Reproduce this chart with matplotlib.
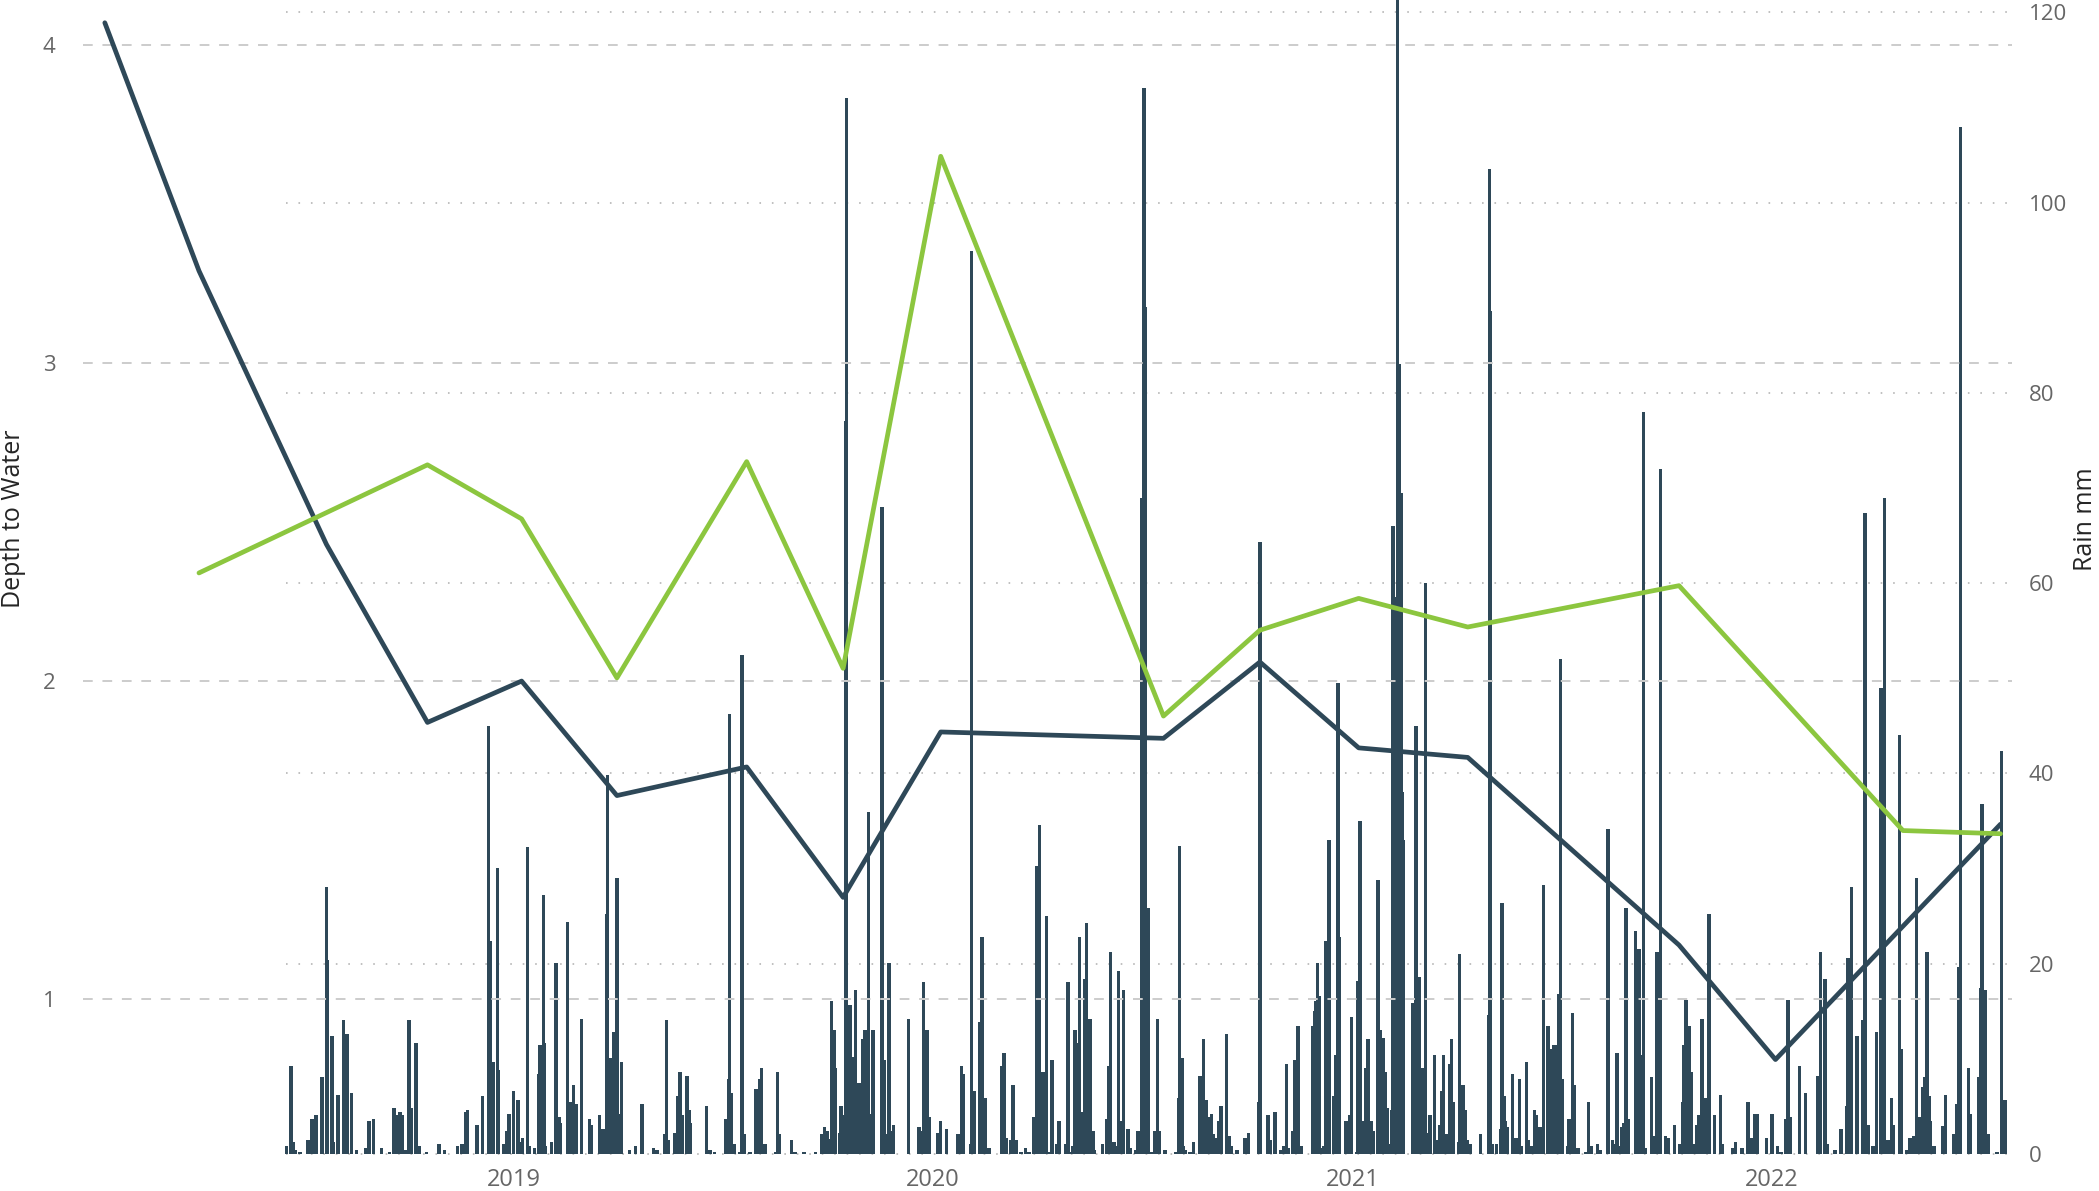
import matplotlib
matplotlib.use("Agg")
import matplotlib.pyplot as plt
import pandas as pd

plt.rcParams["font.family"] = ["Open Sans", "DejaVu Sans"]

SLATE = "#2E4858"
GREEN = "#8CC63F"
GRID = "#CCCCCC"
TICK = "#666666"

# quarterly depth readings (two bores)
dark_dates = ["2018-01-10", "2018-04-02", "2018-07-22", "2018-10-18", "2019-01-08",
              "2019-04-01", "2019-07-23", "2019-10-15", "2020-01-08", "2020-07-20",
              "2020-10-12", "2021-01-06", "2021-04-11", "2021-10-12", "2022-01-04",
              "2022-07-19"]
dark_depth = [4.07, 3.29, 2.43, 1.87, 2.00, 1.64, 1.73, 1.32, 1.84, 1.82,
              2.06, 1.79, 1.76, 1.17, 0.81, 1.55]

green_dates = ["2018-04-02", "2018-10-18", "2019-01-08", "2019-04-01", "2019-07-23",
               "2019-10-15", "2020-01-08", "2020-07-20", "2020-10-12", "2021-01-06",
               "2021-04-11", "2021-10-12", "2022-04-25", "2022-07-19"]
green_depth = [2.34, 2.68, 2.51, 2.01, 2.69, 2.04, 3.65, 1.89, 2.16, 2.26,
               2.17, 2.30, 1.53, 1.52]

# daily rain, days counted from rain_start
rain_start = "2018-06-16"
rain_day = [
    1, 5, 7, 9, 13, 20, 23, 24, 27, 32, 36, 37, 41, 42, 46, 51, 54, 58, 62, 70,
    73, 77, 84, 91, 95, 98, 100, 102, 105, 108, 110, 114, 117, 123, 134, 139, 150, 154, 157, 159,
    167, 172, 177, 179, 181, 185, 186, 190, 193, 195, 199, 203, 206, 207, 211, 213, 217, 221, 222, 225,
    226, 227, 232, 236, 239, 240, 246, 249, 251, 253,
    254, 258, 265, 267, 274, 277, 278, 280, 281, 283, 286, 289, 291, 293, 300, 305, 311, 321, 324, 331,
    332, 334, 339, 342, 344, 346, 350, 352, 353, 367, 370, 374, 384, 386, 387, 389, 391, 396, 398, 400,
    405, 410, 413, 415, 418, 427, 429, 430, 441, 444, 452, 462, 467, 470, 472, 474, 476, 478, 479, 483,
    484, 486, 487, 488, 489, 492, 495, 497, 500, 503, 505, 508,
    510, 512, 520, 522, 524, 526, 528, 530, 543, 552, 554, 556, 559, 561, 568, 571, 576, 586, 589, 591,
    597, 598, 600, 605, 607, 610, 613, 624, 626, 628, 632, 634, 637, 641, 645, 648, 652, 655, 657, 660,
    663, 666, 668, 672, 674, 680, 682, 685, 686, 688, 691, 692, 695, 696, 698, 701, 704, 705, 712, 716,
    717, 719, 722, 724, 726, 728, 730, 734, 736, 741, 743, 746, 748, 749, 752, 754, 757, 760, 761, 766,
    767, 776, 778, 779, 781, 782, 784, 788, 791, 797, 800, 802, 804, 805, 807, 808, 810, 813, 815, 820,
    822, 824, 829, 836, 839, 848, 849, 856, 858, 862, 867, 870, 872, 874, 878, 879, 882, 885, 895, 897,
    898, 899, 901, 903, 905, 906, 909, 913, 915, 917, 918, 924, 927, 929, 933, 934, 936, 939, 941, 943,
    946, 948, 952, 954, 956, 958, 960, 962, 964, 965, 966, 967, 968, 969, 970, 971, 972, 973, 974, 982,
    985, 988, 990, 993, 995, 997, 1001, 1003, 1006, 1007, 1009, 1011, 1013, 1014, 1016, 1017, 1022, 1023,
    1026, 1028, 1030, 1032, 1041, 1048, 1049, 1050, 1051, 1055, 1059, 1060, 1062, 1063, 1064, 1069, 1072, 1075,
    1077, 1081, 1083, 1085, 1088, 1090, 1092, 1094, 1096, 1100, 1102, 1105, 1108, 1109, 1111, 1112, 1117, 1118,
    1121, 1123, 1126, 1133, 1135, 1138, 1143, 1145, 1152, 1156, 1158, 1160, 1161, 1164, 1166, 1168, 1170, 1176,
    1179, 1181, 1183, 1185, 1190, 1193, 1195, 1198, 1202, 1205, 1210, 1215, 1217, 1218, 1220, 1223, 1225, 1226,
    1229, 1231, 1234, 1237, 1238, 1240, 1245, 1250, 1252, 1261, 1263, 1269, 1274, 1277, 1280,
    1282, 1290, 1295, 1300, 1303, 1307, 1309, 1311, 1319, 1324, 1335, 1337, 1341, 1343, 1350, 1355, 1360, 1361,
    1364, 1369, 1374, 1376, 1379, 1383, 1386, 1390, 1393, 1396, 1399, 1401, 1406, 1408, 1412, 1415, 1418, 1421,
    1424, 1426, 1428, 1430, 1432, 1433, 1436, 1444, 1446, 1453, 1456, 1458, 1459, 1466, 1468, 1475, 1477, 1478,
    1481, 1483, 1491, 1495, 1498,
]
rain_mm = [
    0.8, 9.3, 1.3, 0.4, 0.2, 1.5, 3.7, 3.7, 4.1, 8.1, 28.1, 20.4, 12.4, 1.3, 6.2, 14.1, 12.6, 6.4, 0.4, 0.6,
    3.5, 3.7, 0.6, 0.2, 4.8, 4.1, 4.4, 4.1, 0.4, 14.1, 4.8, 11.7, 0.8, 0.2, 1.1, 0.4, 0.8, 1.1, 4.4, 4.6,
    3.0, 6.1, 45.0, 22.4, 9.7, 30.1, 8.8, 1.1, 2.4, 4.2, 6.6, 5.7, 1.3, 1.7, 32.3, 0.8, 0.6, 8.4, 11.5, 27.2,
    11.7, 0.8, 1.3, 20.1, 3.9, 3.3, 24.4, 5.5, 7.3, 5.3,
    5.3, 14.2, 3.7, 3.0, 4.1, 2.6, 1.1, 25.2, 39.8, 10.1, 12.8, 29.0, 4.2, 9.7, 0.4, 0.8, 5.3, 0.6, 0.4, 2.1,
    14.1, 1.5, 2.2, 6.1, 8.6, 4.1, 8.2, 4.6, 3.3, 5.0, 0.4, 0.2, 3.7, 7.9, 46.2, 6.4, 1.1, 0.2, 52.4, 2.1,
    0.2, 6.8, 7.9, 9.0, 1.1, 0.2, 8.6, 2.1, 1.5, 0.2, 0.2, 0.2, 2.1, 2.8, 2.4, 1.6, 16.1, 13.0, 9.0, 2.2,
    5.0, 2.1, 4.1, 77.0, 111.0, 15.7, 10.2, 17.2, 7.5, 12.1, 13.0, 36.0,
    4.2, 13.0, 68.0, 9.9, 2.1, 20.1, 2.4, 3.0, 14.2, 2.8, 2.4, 18.1, 13.0, 3.9, 2.2, 3.5, 2.6, 2.1, 9.3, 8.4,
    1.1, 94.9, 6.6, 13.9, 22.8, 5.9, 0.6, 9.3, 10.6, 1.7, 1.5, 7.3, 1.5, 0.2, 0.6, 0.2, 3.9, 30.3, 34.6, 8.6,
    25.0, 0.2, 9.9, 1.1, 3.5, 1.1, 18.1, 0.2, 0.8, 13.0, 11.7, 22.8, 4.4, 18.4, 24.3, 14.2, 2.4, 0.4, 1.1, 3.7,
    9.3, 21.2, 1.3, 0.8, 19.2, 3.5, 17.2, 2.6, 0.6, 0.4, 2.4, 69.0, 112.0, 89.0, 25.9, 0.2, 2.4, 14.2, 2.4, 0.4,
    0.4, 0.2, 5.9, 32.4, 10.1, 0.8, 0.4, 0.2, 1.3, 8.2, 12.1, 5.7, 2.2, 3.9, 4.2, 2.1, 1.7, 3.5, 5.0, 12.6,
    1.9, 0.8, 0.4, 1.7, 2.2, 5.5, 64.3, 4.1, 1.5, 4.4, 0.4, 0.8, 9.5, 0.6, 2.4, 9.9, 13.5, 0.8, 13.5, 15.0,
    16.1, 20.1, 16.6, 0.6, 0.8, 22.4, 33.0, 6.1, 10.4, 49.5, 22.8, 3.5, 4.1, 14.4, 0.2, 18.2, 35.0, 3.5, 9.0, 12.1,
    3.5, 2.4, 28.8, 13.0, 12.2, 8.6, 4.8, 1.1, 4.6, 66.0, 45.0, 58.6, 40.0, 123.0, 83.0, 55.0, 69.5, 38.0, 33.0, 15.9,
    45.0, 18.6, 9.0, 60.0, 2.2, 4.1, 10.4, 1.5, 3.0, 6.6, 10.4, 2.1, 2.1, 9.5, 12.1, 5.5, 1.3, 21.0,
    7.3, 4.6, 1.5, 1.1, 2.1, 14.6, 103.5, 88.6, 1.1, 1.1, 2.6, 26.4, 6.1, 3.5, 2.8, 8.4, 1.7, 7.9,
    0.8, 9.7, 1.5, 0.8, 4.6, 4.1, 2.8, 2.8, 28.3, 13.5, 11.0, 11.5, 11.5, 16.8, 52.0, 7.9, 0.8, 3.7,
    14.8, 7.3, 0.6, 0.2, 5.5, 0.8, 1.1, 0.4, 34.2, 1.5, 1.1, 10.6, 0.8, 2.8, 3.3, 25.9, 3.7, 23.4,
    21.5, 10.4, 78.0, 0.6, 8.1, 1.9, 21.2, 72.0, 1.9, 1.7, 3.0, 1.1, 5.5, 11.5, 16.2, 13.5, 8.6, 1.1,
    3.0, 4.1, 14.2, 5.9, 1.1, 25.2, 4.1, 6.2, 1.1, 0.6, 1.3, 0.6, 5.5, 1.7, 4.2,
    4.2, 1.7, 4.2, 0.8, 0.2, 3.7, 16.2, 3.9, 9.3, 6.4, 8.2, 21.2, 18.4, 1.1, 0.4, 2.6, 5.0, 20.6,
    28.1, 12.4, 14.1, 67.4, 3.0, 0.8, 12.8, 49.0, 69.0, 1.5, 5.9, 3.0, 44.0, 11.0, 0.4, 1.7, 1.9, 29.0,
    3.9, 7.0, 8.1, 21.2, 6.1, 3.5, 0.8, 2.9, 6.2, 2.1, 5.3, 19.7, 108.0, 9.0, 4.2, 8.1, 17.5, 36.8,
    17.2, 2.1, 0.2, 42.4, 5.7,
]

year_ticks = ["2019-01-01", "2020-01-01", "2021-01-01", "2022-01-01"]
year_labels = ["2019", "2020", "2021", "2022"]

W, H = 2099, 1191
fig = plt.figure(figsize=(W / 100, H / 100), dpi=100)
ax = fig.add_axes([83 / W, 37 / H, 1929 / W, 1154 / H])
ax2 = ax.twinx()
ax.set_zorder(ax2.get_zorder() + 1)
ax.patch.set_visible(False)

x_left, x_right = pd.Timestamp("2017-12-22"), pd.Timestamp("2022-07-29")

# rain bars on the right axis
rain_x = pd.Timestamp(rain_start) + pd.to_timedelta(rain_day, unit="D")
ax2.bar(rain_x, rain_mm, width=3.0, color=SLATE, linewidth=0, zorder=3)
ax2.set_ylim(0, 121.3)
rain_ticks = list(range(0, 121, 20))
ax2.set_yticks(rain_ticks)
ax2.hlines(rain_ticks, rain_x[0], x_right, colors="#BBBBBB", linewidth=1.3,
           linestyles=(0, (0.9, 6.0)), zorder=1, clip_on=False)

# depth lines on the left axis
ax.plot(pd.to_datetime(dark_dates), dark_depth, color=SLATE, lw=3.4,
        solid_joinstyle="round", solid_capstyle="round", zorder=4)
ax.plot(pd.to_datetime(green_dates), green_depth, color=GREEN, lw=3.4,
        solid_joinstyle="round", solid_capstyle="round", zorder=4)
ax.set_ylim(0.513, 4.1415)
ax.set_yticks([1, 2, 3, 4])
ax.grid(axis="y", color=GRID, linewidth=1.4, linestyle=(0, (5, 5)))
ax.grid(axis="x", visible=False)
ax.set_xlim(x_left, x_right)
ax.set_xticks(pd.to_datetime(year_ticks))
ax.set_xticklabels(year_labels)

for a in (ax, ax2):
    for s in a.spines.values():
        s.set_visible(False)
ax.tick_params(axis="y", length=0, pad=20, labelsize=16, labelcolor=TICK)
ax.tick_params(axis="x", length=0, pad=10, labelsize=17, labelcolor=TICK)
ax2.tick_params(axis="y", length=0, pad=12, labelsize=16, labelcolor=TICK)

fig.text(14 / W, 1 - 519 / H, "Depth to Water", rotation=90, ha="center", va="center",
         fontsize=18, color="#252525")
fig.text(2085 / W, 1 - 519 / H, "Rain mm", rotation=90, ha="center", va="center",
         fontsize=18, color="#252525")

fig.savefig("out.png", dpi=100, facecolor="white")
